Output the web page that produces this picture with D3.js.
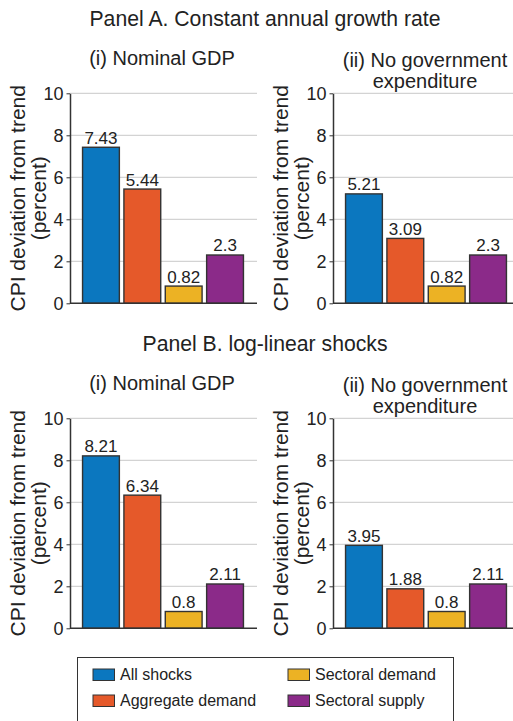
<!DOCTYPE html>
<html>
<head>
<meta charset="utf-8">
<script src="https://cdn.jsdelivr.net/npm/d3@7"></script>
<style>
  html, body { margin: 0; padding: 0; background: #fff; }
  svg { display: block; font-family: "Liberation Sans", Arial, Helvetica, sans-serif; }
</style>
</head>
<body>
<svg id="chart" width="513" height="721"></svg>
<script>
// Shock decomposition of CPI deviation from trend (percent)
const categories = ["All shocks", "Aggregate demand", "Sectoral demand", "Sectoral supply"];
const colors = ["#0b77bf", "#e5592a", "#ecb224", "#8b2a89"];
const yTicks = [0, 2, 4, 6, 8, 10];

const panelTitles = ["Panel A. Constant annual growth rate", "Panel B. log-linear shocks"];
const subTitles = [["(i) Nominal GDP"], ["(ii) No government", "expenditure"]];
const yTitle = ["CPI deviation from trend", "(percent)"];

// Panel A: constant annual growth rate
const panelANominal = [7.43, 5.44, 0.82, 2.3];
const panelANoGov = [5.21, 3.09, 0.82, 2.3];
// Panel B: log-linear shocks
const panelBNominal = [8.21, 6.34, 0.8, 2.11];
const panelBNoGov = [3.95, 1.88, 0.8, 2.11];

const panelValues = [[panelANominal, panelANoGov], [panelBNominal, panelBNoGov]];

const svg = d3.select("#chart");

const plotW = 187, plotH = 210;
const colX = [70, 333];
const rowY = [93.3, 418.3];
const rowStep = 325;

const x = d3.scaleBand().domain(categories).range([8, 178]).padding(0.11);
const y = d3.scaleLinear().domain([0, 10]).range([plotH, 0]);
const color = d3.scaleOrdinal().domain(categories).range(colors);

panelTitles.forEach((t, r) => {
  svg.append("text")
    .attr("x", 265).attr("y", 26 + r * rowStep)
    .attr("text-anchor", "middle")
    .attr("font-size", 21.2).attr("fill", "#222")
    .text(t);
});

panelValues.forEach((row, r) => {
  row.forEach((vals, c) => {
    const g = svg.append("g").attr("transform", `translate(${colX[c]},${rowY[r]})`);

    // subtitle
    subTitles[c].forEach((line, i) => {
      g.append("text")
        .attr("x", 92).attr("y", (c === 0 ? -28.5 : -26.5) + i * 21)
        .attr("text-anchor", "middle")
        .attr("font-size", 20).attr("fill", "#222")
        .text(line);
    });

    // gridlines
    g.append("g").selectAll("line")
      .data(yTicks.filter(d => d > 0))
      .join("line")
      .attr("x1", 0).attr("x2", plotW)
      .attr("y1", d => y(d)).attr("y2", d => y(d))
      .attr("stroke", "#c9c9c9").attr("stroke-width", 1);

    // bars
    g.append("g").selectAll("rect")
      .data(vals)
      .join("rect")
      .attr("x", (d, i) => x(categories[i]))
      .attr("y", d => y(d))
      .attr("width", x.bandwidth())
      .attr("height", d => y(0) - y(d))
      .attr("fill", (d, i) => color(categories[i]))
      .attr("stroke", "#333").attr("stroke-width", 1.4);

    // value labels
    g.append("g").selectAll("text")
      .data(vals)
      .join("text")
      .attr("x", (d, i) => x(categories[i]) + x.bandwidth() / 2)
      .attr("y", d => y(d) - 3.5)
      .attr("text-anchor", "middle")
      .attr("font-size", 17).attr("fill", "#222")
      .text(d => String(d));

    // baseline
    g.append("line")
      .attr("x1", 0).attr("x2", plotW)
      .attr("y1", y(0)).attr("y2", y(0))
      .attr("stroke", "#333").attr("stroke-width", 1.5);

    // y axis
    const ax = g.append("g")
      .call(d3.axisLeft(y).tickValues(yTicks).tickSize(3.5).tickSizeOuter(0).tickPadding(3));
    ax.select(".domain").attr("stroke", "#333").attr("stroke-width", 1.5);
    ax.selectAll(".tick line").attr("stroke", "#333");
    ax.selectAll(".tick text")
      .attr("font-size", 18).attr("fill", "#222")
      .attr("font-family", "Liberation Sans, Arial, Helvetica, sans-serif");

    // y-axis title
    yTitle.forEach((line, i) => {
      g.append("text")
        .attr("transform", `translate(${-45 + i * 21},${plotH / 2}) rotate(-90)`)
        .attr("text-anchor", "middle")
        .attr("font-size", 21).attr("fill", "#222")
        .text(line);
    });
  });
});

// legend
const lg = svg.append("g").attr("transform", "translate(77,657)");
lg.append("rect")
  .attr("x", 0.5).attr("y", 0.5)
  .attr("width", 376).attr("height", 90)
  .attr("fill", "#fff").attr("stroke", "#333").attr("stroke-width", 1);

const legendPos = [[16, 12], [16, 38], [211, 12], [211, 38]];
categories.forEach((cat, i) => {
  const [lx, ly] = legendPos[i];
  const item = lg.append("g").attr("transform", `translate(${lx},${ly})`);
  item.append("rect")
    .attr("width", 21.5).attr("height", 11.5)
    .attr("fill", color(cat)).attr("stroke", "#333").attr("stroke-width", 1);
  item.append("text")
    .attr("x", 27).attr("y", 10.5)
    .attr("font-size", 16).attr("fill", "#222")
    .text(cat);
});
</script>
</body>
</html>
